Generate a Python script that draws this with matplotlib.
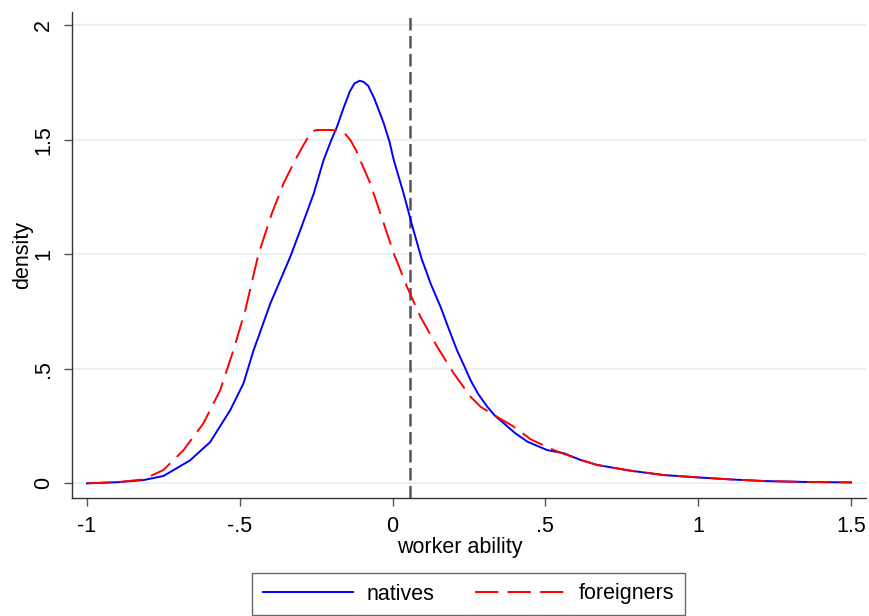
import numpy as np
import matplotlib
matplotlib.use("Agg")
import matplotlib.pyplot as plt

plt.rcParams['font.family'] = ['Liberation Sans', 'DejaVu Sans']

# Kernel density estimates of worker ability
natives_x = [-1.0, -0.9, -0.816, -0.75, -0.663, -0.597, -0.531, -0.488, -0.455, -0.40,
             -0.335, -0.302, -0.258, -0.226, -0.2, -0.182, -0.16, -0.14, -0.125, -0.108,
             -0.095, -0.08, -0.06, -0.04, -0.029, -0.01, 0.004, 0.036, 0.064, 0.095,
             0.125, 0.157, 0.185, 0.211, 0.235, 0.255, 0.28, 0.31, 0.335, 0.364,
             0.40, 0.441, 0.506, 0.561, 0.615, 0.67, 0.779, 0.888, 0.998, 1.107,
             1.216, 1.35, 1.5]
natives_y = [0.0, 0.005, 0.014, 0.032, 0.10, 0.18, 0.32, 0.436, 0.58, 0.785,
             0.988, 1.105, 1.265, 1.41, 1.5, 1.556, 1.64, 1.71, 1.745, 1.757,
             1.752, 1.735, 1.68, 1.61, 1.571, 1.49, 1.41, 1.265, 1.125, 0.98,
             0.87, 0.77, 0.67, 0.58, 0.51, 0.45, 0.39, 0.334, 0.295, 0.262,
             0.22, 0.182, 0.145, 0.131, 0.102, 0.08, 0.055, 0.036, 0.026, 0.017,
             0.01, 0.006, 0.004]

foreign_x = [-1.0, -0.9, -0.816, -0.75, -0.684, -0.619, -0.564, -0.521, -0.482, -0.439,
             -0.395, -0.357, -0.313, -0.29, -0.269, -0.255, -0.247, -0.2, -0.171, -0.155,
             -0.138, -0.12, -0.106, -0.073, -0.04, 0.004, 0.047, 0.091, 0.146, 0.2,
             0.255, 0.288, 0.342, 0.397, 0.452, 0.528, 0.615, 0.67, 0.779, 0.888,
             0.998, 1.107, 1.216, 1.35, 1.5]
foreign_y = [0.0, 0.005, 0.017, 0.058, 0.145, 0.262, 0.407, 0.58, 0.756, 1.0,
             1.178, 1.309, 1.425, 1.48, 1.527, 1.54, 1.542, 1.542, 1.538, 1.525,
             1.498, 1.455, 1.41, 1.309, 1.178, 1.003, 0.858, 0.727, 0.596, 0.48,
             0.378, 0.334, 0.29, 0.247, 0.192, 0.145, 0.102, 0.08, 0.055, 0.036,
             0.026, 0.017, 0.01, 0.006, 0.004]

cutoff = 0.058

x_ticks = [-1, -0.5, 0, 0.5, 1, 1.5]
x_ticklabels = ['-1', '-.5', '0', '.5', '1', '1.5']
y_ticks = [0, 0.5, 1, 1.5, 2]
y_ticklabels = ['0', '.5', '1', '1.5', '2']

fig = plt.figure(figsize=(8.69, 6.16), dpi=100)
ax = fig.add_axes([72/869, 1 - 498/616, (866 - 72)/869, (498 - 12)/616])

for yv in y_ticks:
    ax.axhline(yv, color='#EAF1F3', lw=1.6, zorder=0)

ax.axvline(cutoff, color='#555555', lw=1.8, dashes=(5, 2.2), zorder=1)

ax.plot(natives_x, natives_y, color='#0000FF', lw=1.4, label='natives', zorder=3,
        solid_joinstyle='round')
ax.plot(foreign_x, foreign_y, color='#FF0000', lw=1.4, dashes=(12, 4.7),
        label='foreigners', zorder=4)

ax.set_xlim(-1.049, 1.549)
ax.set_ylim(-0.064, 2.057)
ax.set_xticks(x_ticks)
ax.set_xticklabels(x_ticklabels)
ax.set_yticks(y_ticks)
ax.set_yticklabels(y_ticklabels, rotation=90, va='center')

ax.spines['top'].set_visible(False)
ax.spines['right'].set_visible(False)
for s in ('left', 'bottom'):
    ax.spines[s].set_color('#333333')
    ax.spines[s].set_linewidth(1.0)

ax.tick_params(axis='both', length=5.8, width=1.0, color='#555555',
               labelsize=15.5, pad=7)

ax.set_xlabel('worker ability', fontsize=15.5)
ax.xaxis.set_label_coords(0.4887, -0.080)
ax.set_ylabel('density', fontsize=15.5)
ax.yaxis.set_label_coords(-0.049, 0.5)

leg = fig.legend(loc='center', bbox_to_anchor=(468.5/869, 1 - 594/616), ncol=2,
                 fontsize=15.5, handlelength=4.2, handletextpad=0.6,
                 columnspacing=1.9, frameon=True, fancybox=False,
                 borderpad=0.5, borderaxespad=0)
leg.get_frame().set_edgecolor('#444444')
leg.get_frame().set_linewidth(1.0)

fig.savefig('out.png', dpi=100)
